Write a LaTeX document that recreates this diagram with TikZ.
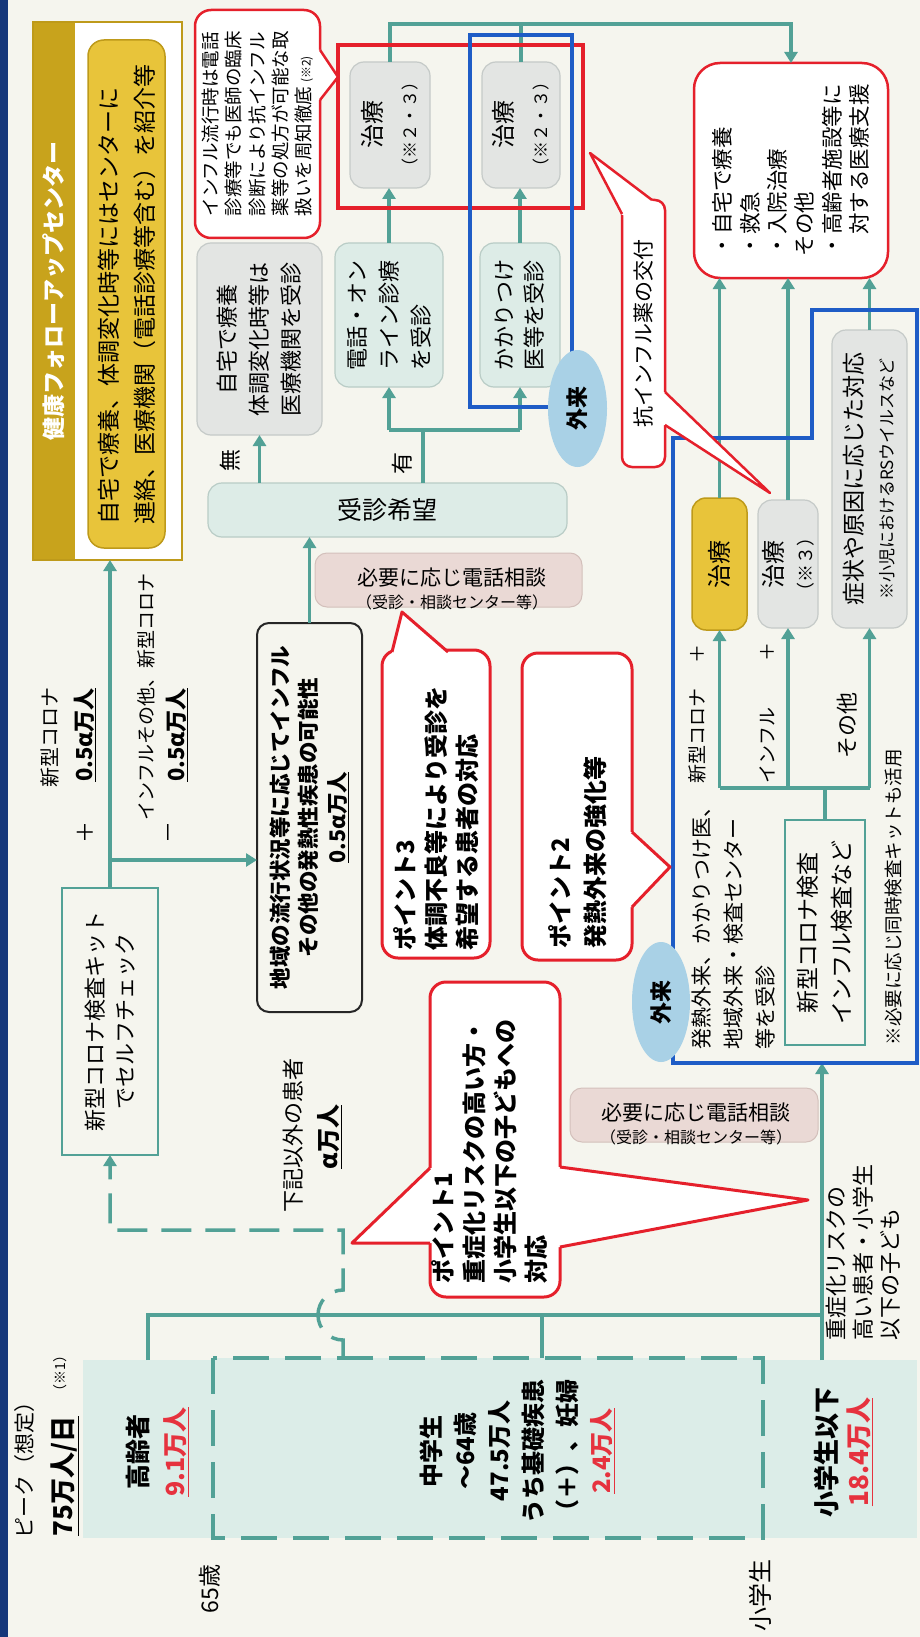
\documentclass[tikz,border=0pt]{standalone}
\usepackage{fontspec}
\setmainfont{Noto Sans CJK JP}
\usetikzlibrary{arrows.meta,shapes.geometric,calc}
\definecolor{bgc}{HTML}{F5F5EE}
\definecolor{navy}{HTML}{16377A}
\definecolor{teal1}{HTML}{52A196}
\definecolor{pfill}{HTML}{DCEDE8}
\definecolor{grayf}{HTML}{E3E5E3}
\definecolor{grayb}{HTML}{C5CAC8}
\definecolor{tealf}{HTML}{DDECE7}
\definecolor{tealb}{HTML}{B9CCC6}
\definecolor{pinkf}{HTML}{EAD9D5}
\definecolor{pinkb}{HTML}{D3C0BB}
\definecolor{redc}{HTML}{E5202B}
\definecolor{bluec}{HTML}{1E5CC6}
\definecolor{ellf}{HTML}{A9D1E6}
\definecolor{goldband}{HTML}{C8A31C}
\definecolor{goldf}{HTML}{E8C43A}
\definecolor{goldb}{HTML}{BE9A1A}
\definecolor{redtxt}{HTML}{E6323E}
\newcommand{\myfs}[2]{\fontsize{#1}{#2}\selectfont}
\begin{document}
\begin{tikzpicture}[x=1pt,y=-1pt,
  every node/.style={inner sep=0pt, outer sep=0pt, text=black},
  rot/.style={rotate=90},
  tl/.style={draw=teal1, line width=3.5pt},
  arr/.style={tl, -{Triangle[width=13pt,length=11pt]}},
  dtl/.style={tl, dash pattern=on 30pt off 14pt},
  gbox/.style={rotate=90, draw=grayb, fill=grayf, line width=1.2pt, rounded corners=14pt, align=center},
  tbox/.style={rotate=90, draw=tealb, fill=tealf, line width=1.2pt, rounded corners=14pt, align=left},
  kbox/.style={rotate=90, draw=teal1, line width=2pt, align=center},
  pinkbox/.style={draw=pinkb, fill=pinkf, line width=1pt, rounded corners=12pt},
  callout/.style={rotate=90, draw=redc, fill=white, line width=3pt, rounded corners=16pt},
  ptr/.style={draw=redc, line width=3pt, line join=round},
  ellnode/.style={rotate=90, ellipse, fill=ellf, font=\bfseries\myfs{22}{24}},
]
\useasboundingbox (0,0) rectangle (920,1637);
\fill[bgc] (0,0) rectangle (920,1637);
\fill[navy] (0,0) rectangle (8,1637);

% ---- health follow-up center
\node[rot, fill=white, minimum width=538pt, minimum height=149pt] (hfcbg) at (107.5,291) {};
\fill[goldband] (33,22) rectangle (75,560);
\node[rot, draw=goldb, line width=2pt, minimum width=538pt, minimum height=149pt] (hfc) at (107.5,291) {};
\node[rot, text=white, font=\bfseries\myfs{23}{25}] (hfct) at (54,291) {健康フォローアップセンター};
\node[rot, draw=goldb, fill=goldf, line width=1.5pt, rounded corners=16pt, minimum width=508pt, minimum height=77pt, align=left, font=\myfs{23}{36}] (hfcin) at (126.5,294) {自宅で療養、体調変化時等にはセンターに\\連絡、医療機関（電話診療等含む）を紹介等};

% ---- titles
\node[rot, anchor=west, font=\myfs{21}{23}] (ttl1) at (25,1538) {ピーク（想定）};
\node[rot, anchor=west, font=\bfseries\myfs{26}{28}] (ttl2) at (65,1536) {\underline{75万人/日}};
\node[rot, anchor=west, font=\myfs{14}{16}] (ttl3) at (60,1398) {（※1）};
\node[rot, font=\myfs{23}{25}] (a65) at (210,1589) {65歳};
\node[rot, font=\myfs{24}{26}] (asho) at (760,1595) {小学生};

% ---- patient boxes
\node[rot, fill=pfill, minimum width=178pt, minimum height=130pt] (eld) at (148,1449) {};
\node[rot, fill=pfill, minimum width=178pt, minimum height=154pt] (kid) at (840,1449) {};
\node[rot, fill=pfill, draw=teal1, line width=3.5pt, dash pattern=on 36pt off 16pt, minimum width=180pt, minimum height=550pt] (mid) at (488,1448) {};
\node[rot, align=center, font=\bfseries\myfs{25}{37}] (eldt) at (157,1452) {高齢者\\\textcolor{redtxt}{\underline{9.1万人}}};
\node[rot, align=center, font=\bfseries\myfs{24}{34}] (midt) at (517,1451) {中学生\\～64歳\\47.5万人\\うち基礎疾患\\（＋）、妊婦\\\textcolor{redtxt}{\underline{2.4万人}}};
\node[rot, align=center, font=\bfseries\myfs{26}{32}] (kidt) at (843,1452) {小学生以下\\\textcolor{redtxt}{\underline{18.4万人}}};

% ---- kit box and labels
\node[kbox, minimum width=267pt, minimum height=96pt, font=\myfs{22}{30}] (kit) at (110,1021.5) {新型コロナ検査キット\\でセルフチェック};
\node[rot, font=\myfs{20}{22}] (lA) at (50,737) {新型コロナ};
\node[rot, font=\bfseries\myfs{22}{24}] (lC) at (85,735) {\underline{0.5α万人}};
\node[rot, font=\myfs{22}{24}] (lB) at (85,832) {＋};
\node[rot, font=\myfs{19}{21}] (lD) at (146,697) {インフルその他、新型コロナ};
\node[rot, font=\myfs{22}{24}] (lE) at (172,832) {－};
\node[rot, font=\bfseries\myfs{22}{24}] (lF) at (177,735) {\underline{0.5α万人}};
\node[rot, font=\myfs{22}{24}] (kaki) at (293,1135) {下記以外の患者};
\node[rot, font=\bfseries\myfs{24}{26}] (alpha) at (330,1137) {\underline{α万人}};

% ---- middle flow
\node[rot, draw=black!85, line width=2pt, rounded corners=12pt, minimum width=389pt, minimum height=105pt, align=center, font=\bfseries\myfs{21.5}{28.5}] (chiiki) at (309.5,817.5) {地域の流行状況等に応じてインフル\\その他の発熱性疾患の可能性\\\underline{0.5α万人}};
\node[draw=tealb, fill=tealf, line width=1.2pt, rounded corners=14pt, minimum width=359pt, minimum height=54pt, font=\myfs{25}{27}] (jushin) at (387.5,510) {受診希望};
\node[pinkbox, minimum width=267pt, minimum height=54pt] (pk1) at (448.5,580) {};
\node[align=center, font=\myfs{19}{23}] (pk1t) at (452,589) {{\myfs{21}{23}必要に応じ電話相談}\\{\myfs{16}{23}（受診・相談センター等）}};
\node[gbox, minimum width=192pt, minimum height=125pt, font=\myfs{22}{32}] (jitaku) at (259.5,339) {自宅で療養\\体調変化時等は\\医療機関を受診};
\node[tbox, minimum width=144pt, minimum height=108pt, font=\myfs{22}{32}] (denwa) at (389,315) {電話・オン\\ライン診療\\を受診};
\node[tbox, minimum width=144pt, minimum height=80pt, font=\myfs{22}{30}] (kakari) at (520,315) {かかりつけ\\医等を受診};
\node[gbox, minimum width=126pt, minimum height=80pt, font=\myfs{24}{35}] (c1) at (390,125) {治療\\{\myfs{17}{35}（※２・３）}};
\node[gbox, minimum width=126pt, minimum height=78pt, font=\myfs{24}{35}] (c2) at (521,125) {治療\\{\myfs{17}{35}（※２・３）}};
\node[rot, font=\myfs{22}{24}] (nai) at (230,460) {無};
\node[rot, font=\myfs{22}{24}] (ari) at (402,463) {有};

% ---- right list box
\node[rot, draw=redc, fill=white, line width=2.5pt, rounded corners=26pt, minimum width=215pt, minimum height=194pt, align=left, font=\myfs{21.5}{27.4}] (redbox) at (791,170.5) {・自宅で療養\\・救急\\・入院治療\\その他\\・高齢者施設等に\\　対する医療支援};

% ---- lower flow boxes
\node[rot, draw=goldb, fill=goldf, line width=1.5pt, rounded corners=14pt, minimum width=132pt, minimum height=55pt, font=\myfs{24}{26}] (cG) at (719.5,564) {治療};
\node[gbox, minimum width=128pt, minimum height=60pt, font=\myfs{24}{30}] (c3) at (788,564) {治療\\{\myfs{18}{30}（※３）}};
\node[gbox, minimum width=298pt, minimum height=75pt, font=\myfs{23}{31}] (shojo) at (869.5,479) {症状や原因に応じた対応\\{\myfs{17}{31}※小児におけるRSウイルスなど}};
\node[kbox, minimum width=225pt, minimum height=80pt, font=\myfs{23}{34}] (test) at (825,932.5) {新型コロナ検査\\インフル検査など};
\node[rot, anchor=west, font=\myfs{18.5}{20}] (note2) at (893,1045) {※必要に応じ同時検査キットも活用};
\node[rot, anchor=north west, align=left, font=\myfs{21}{32}] (hatsu) at (692,1049) {発熱外来、かかりつけ医、\\地域外来・検査センター\\等を受診};
\node[rot, anchor=west, font=\myfs{19}{21}] (lG) at (697,783) {新型コロナ\hspace{1.3em}＋};
\node[rot, anchor=west, font=\myfs{19}{21}] (lH) at (767,783) {インフル\hspace{2.4em}＋};
\node[rot, font=\myfs{22}{24}] (lI) at (847,725) {その他};
\node[pinkbox, minimum width=248pt, minimum height=54pt] (pk2) at (694,1115) {};
\node[align=center, font=\myfs{19}{23}] (pk2t) at (696,1124) {{\myfs{21}{23}必要に応じ電話相談}\\{\myfs{16}{23}（受診・相談センター等）}};
\node[rot, anchor=north west, align=left, font=\myfs{22}{27}] (jusho) at (826,1340) {重症化リスクの\\高い患者・小学生\\以下の子ども};

% ---- connectors
\coordinate (yesj) at (423,430);
\draw[tl] (jushin.north -| yesj) -- (yesj);
\draw[tl] (denwa.west |- yesj) -- (kakari.west |- yesj);
\draw[arr] (denwa.west |- yesj) -- (denwa.west);
\draw[arr] (kakari.west |- yesj) -- (kakari.west);
\draw[arr] (jushin.north -| jitaku.west) -- (jitaku.west);
\draw[arr] (denwa.east) -- (denwa.east |- c1.west);
\draw[arr] (kakari.east) -- (kakari.east |- c2.west);
\draw[arr] (c1.east) -- ++(0,-38) -| (redbox.east);
\draw[tl] (c2.east) -- ++(0,-38);
\draw[arr] (chiiki.east) -- (chiiki.east |- jushin.south);
\draw[arr] (kit.east) -- (kit.east |- hfc.west);
\coordinate (kbr) at (110,860);
\draw[arr] (kbr) -- (kbr -| chiiki.north);
\coordinate (hbus) at (822,1315);
\coordinate (kidtop) at (822,1360);
\coordinate (midtop) at (542,1358);
\coordinate (blueb) at (822,1063);
\draw[tl] (eld.east) -- (eld.east |- hbus) -- (hbus);
\draw[tl] (midtop) -- (midtop |- hbus);
\draw[arr] (kidtop) -- (blueb);
\coordinate (dtop) at (343,1358);
\draw[dtl, -{Triangle[width=13pt,length=11pt]}] (dtop) -- ++(0,-18) arc[start angle=90, end angle=270, radius=25] -- ++(0,-60) -| (kit.west);
\coordinate (split) at (823,788);
\draw[tl] (test.east) -- (test.east |- split);
\draw[tl] (split -| cG.west) -- (split -| shojo.west);
\draw[arr] (split -| cG.west) -- (cG.west);
\draw[arr] (split -| c3.west) -- (c3.west);
\draw[arr] (split -| shojo.west) -- (shojo.west);
\draw[arr] (cG.east) -- (cG.east |- redbox.west);
\draw[arr] (c3.east) -- (c3.east |- redbox.west);
\draw[arr] (shojo.east) -- (shojo.east |- redbox.west);

% ---- frames
\draw[redc, line width=4.5pt] (338,45) rectangle (583,208);
\draw[bluec, line width=3.5pt] (470,35) rectangle (572,407);
\draw[bluec, line width=3.5pt] (673,1063) -- (673,438) -- (812,438) -- (812,310) -- (917,310) -- (917,1063) -- cycle;
\node[ellnode, minimum width=117pt, minimum height=59pt] (gai1) at (577.5,408.5) {外来};
\node[ellnode, minimum width=120pt, minimum height=58pt] (gai2) at (661,1002) {外来};

% ---- callouts
\node[callout, line width=2.5pt, minimum width=228pt, minimum height=125pt, align=left, font=\myfs{18.5}{23.3}] (notice) at (257.5,124) {インフル流行時は電話\\診療等でも医師の臨床\\診断により抗インフル\\薬等の処方が可能な取\\扱いを周知徹底 {\myfs{12}{23.3}(※2)}};
\fill[white] (316,50) -- (321,50) -- (338,77) -- (321,100) -- (316,100) -- cycle;
\draw[ptr, line width=2.5pt] (320,50) -- (338,77) -- (320,100);

\node[callout, line width=2.5pt, rounded corners=10pt, minimum width=267pt, minimum height=43pt, font=\myfs{21}{23}] (kouinf) at (643.5,333.5) {抗インフル薬の交付};
\fill[white] (655,203) -- (650,199) -- (590,153) -- (620,214) -- (626,216) -- cycle;
\draw[ptr, line width=2.5pt] (652,200) -- (590,153) -- (622,214);
\fill[white] (661,392) -- (666,392) -- (770,493) -- (666,425) -- (661,425) -- cycle;
\draw[ptr, line width=2.5pt] (665,392) -- (770,493) -- (665,425);

\node[callout, minimum width=308pt, minimum height=108pt] (pt3) at (436,804) {};
\fill[white] (392,656) -- (392,651) -- (402,612) -- (448,651) -- (448,656) -- cycle;
\draw[ptr] (392,652) -- (402,612) -- (448,652);
\node[rot, anchor=north west, align=left, font=\bfseries\myfs{24}{31}] (pt3t) at (393,950) {ポイント3\\体調不良等により受診を\\希望する患者の対応};

\node[callout, minimum width=307pt, minimum height=110pt] (pt2) at (577,806.5) {};
\fill[white] (628,832) -- (633,832) -- (670,867) -- (633,907) -- (628,907) -- cycle;
\draw[ptr] (632,832) -- (670,867) -- (632,907);
\node[rot, anchor=north west, align=left, font=\bfseries\myfs{24}{35}] (pt2t) at (548,948) {ポイント2\\発熱外来の強化等};

\node[callout, minimum width=315pt, minimum height=130pt] (pt1) at (495,1139.5) {};
\fill[white] (434,1168) -- (429,1168) -- (352,1243) -- (429,1243) -- (434,1243) -- cycle;
\draw[ptr] (430,1168) -- (352,1243) -- (430,1243);
\fill[white] (556,1167) -- (561,1167) -- (808,1200) -- (561,1247) -- (556,1247) -- cycle;
\draw[ptr] (560,1167) -- (808,1200) -- (560,1247);
\node[rot, anchor=north west, align=left, font=\bfseries\myfs{24}{31}] (pt1t) at (431,1283) {ポイント1\\重症化リスクの高い方・\\小学生以下の子どもへの\\対応};
\end{tikzpicture}
\end{document}
